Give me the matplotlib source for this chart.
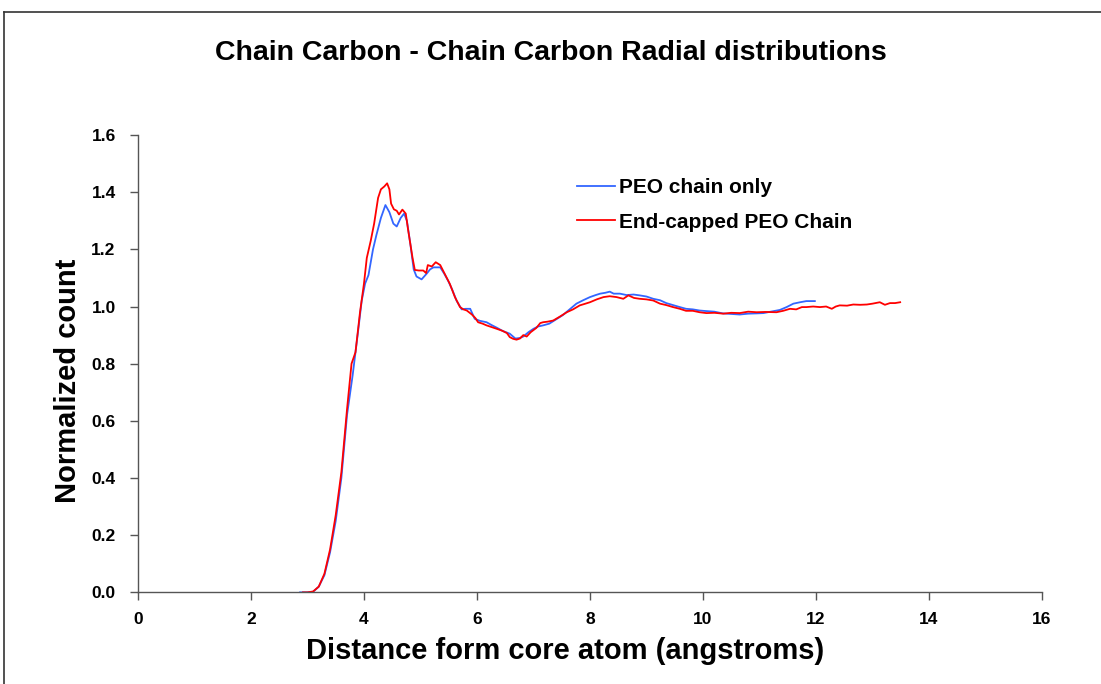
import numpy as np
import matplotlib
matplotlib.use('Agg')
import matplotlib.pyplot as plt
from matplotlib.lines import Line2D

plt.rcParams['font.family'] = ['Liberation Sans', 'DejaVu Sans']
plt.rcParams['font.weight'] = 'bold'

# PEO chain only (blue)
x_peo = [2.87, 3.0, 3.1, 3.2, 3.3, 3.4, 3.5, 3.6, 3.7, 3.8, 3.9, 3.96, 4.02, 4.08,
         4.16, 4.22, 4.30, 4.38, 4.45, 4.52, 4.58, 4.65, 4.71, 4.76, 4.82, 4.88,
         4.93, 5.02, 5.11, 5.17, 5.23, 5.35, 5.42, 5.49, 5.56, 5.64, 5.73, 5.80,
         5.88, 5.96, 6.05, 6.17, 6.26, 6.35, 6.45, 6.58, 6.68, 6.76, 6.82, 6.91,
         7.0, 7.08, 7.17, 7.28, 7.40, 7.52, 7.64, 7.76, 7.88, 8.0, 8.10, 8.18,
         8.27, 8.35, 8.42, 8.53, 8.65, 8.77, 8.88, 9.0, 9.12, 9.24, 9.35, 9.47,
         9.59, 9.70, 9.82, 9.94, 10.06, 10.2, 10.35, 10.5, 10.65, 10.8, 10.95,
         11.07, 11.2, 11.36, 11.48, 11.60, 11.72, 11.83, 11.98]
y_peo = [0, 0, 0.002, 0.02, 0.06, 0.14, 0.25, 0.40, 0.62, 0.76, 0.92, 1.02, 1.08, 1.11,
         1.20, 1.25, 1.31, 1.355, 1.33, 1.29, 1.28, 1.31, 1.325, 1.30, 1.22, 1.13,
         1.105, 1.095, 1.115, 1.13, 1.137, 1.137, 1.115, 1.09, 1.06, 1.02, 0.99, 0.992,
         0.992, 0.957, 0.95, 0.945, 0.935, 0.926, 0.915, 0.905, 0.888, 0.89, 0.895, 0.91,
         0.922, 0.93, 0.934, 0.94, 0.955, 0.97, 0.99, 1.010, 1.022, 1.033, 1.04, 1.045,
         1.048, 1.052, 1.045, 1.045, 1.04, 1.042, 1.039, 1.035, 1.027, 1.022, 1.012, 1.005,
         0.998, 0.992, 0.99, 0.986, 0.984, 0.982, 0.976, 0.974, 0.972, 0.975, 0.976,
         0.977, 0.982, 0.988, 0.998, 1.010, 1.015, 1.019, 1.019]

# End-capped PEO chain (red)
x_cap = [2.92, 3.0, 3.1, 3.2, 3.3, 3.4, 3.5, 3.6, 3.7, 3.78, 3.85, 3.93, 4.0, 4.05,
         4.12, 4.18, 4.25, 4.30, 4.36, 4.41, 4.45, 4.48, 4.53, 4.58, 4.62, 4.68,
         4.74, 4.78, 4.82, 4.86, 4.90, 4.97, 5.05, 5.10, 5.13, 5.20, 5.27, 5.35,
         5.43, 5.52, 5.61, 5.70, 5.76, 5.82, 5.91, 5.97, 6.02, 6.10, 6.17, 6.26,
         6.35, 6.45, 6.53, 6.58, 6.64, 6.70, 6.76, 6.82, 6.88, 6.95, 7.05, 7.12,
         7.17, 7.25, 7.35, 7.47, 7.59, 7.70, 7.82, 7.92, 8.0, 8.12, 8.24, 8.35,
         8.47, 8.53, 8.59, 8.68, 8.78, 8.88, 9.0, 9.12, 9.24, 9.35, 9.47, 9.59,
         9.70, 9.82, 9.94, 10.06, 10.2, 10.36, 10.5, 10.65, 10.8, 10.95, 11.1,
         11.30, 11.42, 11.54, 11.65, 11.75, 11.83, 11.95, 12.07, 12.18, 12.28,
         12.35, 12.42, 12.55, 12.66, 12.78, 12.90, 13.0, 13.13, 13.22, 13.31,
         13.40, 13.49]
y_cap = [0, 0, 0.003, 0.02, 0.065, 0.15, 0.27, 0.42, 0.64, 0.80, 0.84, 0.98, 1.08, 1.17,
         1.23, 1.29, 1.38, 1.41, 1.42, 1.431, 1.41, 1.36, 1.34, 1.335, 1.322, 1.339,
         1.325, 1.27, 1.22, 1.17, 1.128, 1.126, 1.126, 1.117, 1.145, 1.14, 1.155, 1.145,
         1.114, 1.079, 1.033, 0.998, 0.99, 0.986, 0.972, 0.96, 0.945, 0.94, 0.934, 0.928,
         0.922, 0.915, 0.907, 0.893, 0.887, 0.884, 0.888, 0.9, 0.895, 0.91, 0.925, 0.942,
         0.945, 0.947, 0.951, 0.965, 0.980, 0.99, 1.004, 1.01, 1.015, 1.025, 1.033, 1.036,
         1.033, 1.03, 1.027, 1.039, 1.03, 1.027, 1.025, 1.021, 1.010, 1.005, 0.998, 0.992,
         0.985, 0.985, 0.98, 0.977, 0.978, 0.975, 0.978, 0.977, 0.982, 0.980, 0.981,
         0.980, 0.985, 0.992, 0.99, 0.998, 0.998, 1.0, 0.998, 1.0, 0.992,
         1.0, 1.004, 1.003, 1.007, 1.006, 1.007, 1.01, 1.015, 1.006, 1.012,
         1.012, 1.015]

x_ticks = [0, 2, 4, 6, 8, 10, 12, 14, 16]
y_ticks = [0.0, 0.2, 0.4, 0.6, 0.8, 1.0, 1.2, 1.4, 1.6]

fig = plt.figure(figsize=(11.01, 6.84), dpi=100)
ax = fig.add_axes([0.1253, 0.134, 0.8211, 0.6686])

ax.plot(x_peo, y_peo, color='#3366FF', lw=1.3, label='PEO chain only')
ax.plot(x_cap, y_cap, color='#FF0000', lw=1.3, label='End-capped PEO Chain')

ax.set_xlim(0, 16)
ax.set_ylim(0, 1.6)
ax.set_xticks(x_ticks)
ax.set_yticks(y_ticks)
ax.set_yticklabels(['%.1f' % v for v in y_ticks])
ax.tick_params(labelsize=12.5, direction='out', length=6, width=1, color='#555555')
ax.tick_params(axis='x', pad=8)
ax.tick_params(axis='y', pad=10)
for lbl in ax.get_xticklabels() + ax.get_yticklabels():
    lbl.set_fontweight('bold')
ax.spines['top'].set_visible(False)
ax.spines['right'].set_visible(False)
for s in ['left', 'bottom']:
    ax.spines[s].set_color('#555555')
    ax.spines[s].set_linewidth(1)

ax.set_xlabel('Distance form core atom (angstroms)', fontsize=21, fontweight='bold')
ax.set_ylabel('Normalized count', fontsize=21, fontweight='bold')
ax.xaxis.set_label_coords(0.472, -0.097)
ax.yaxis.set_label_coords(-0.062, 0.462)
fig.text(0.5, 0.922, 'Chain Carbon - Chain Carbon Radial distributions',
         ha='center', va='center', fontsize=20.5, fontweight='bold')

leg = ax.legend(loc='upper left', bbox_to_anchor=(0.465, 0.947), frameon=False,
                prop={'size': 15, 'weight': 'bold'}, handlelength=1.8,
                handletextpad=0.2, labelspacing=0.75)

# chart-area border (top and left edges visible)
fig.add_artist(Line2D([4 / 1101, 4 / 1101], [0, 1 - 12 / 684], color='#333333', lw=1.2))
fig.add_artist(Line2D([4 / 1101, 1], [1 - 12 / 684, 1 - 12 / 684], color='#333333', lw=1.2))

fig.savefig('out.png', dpi=100)
